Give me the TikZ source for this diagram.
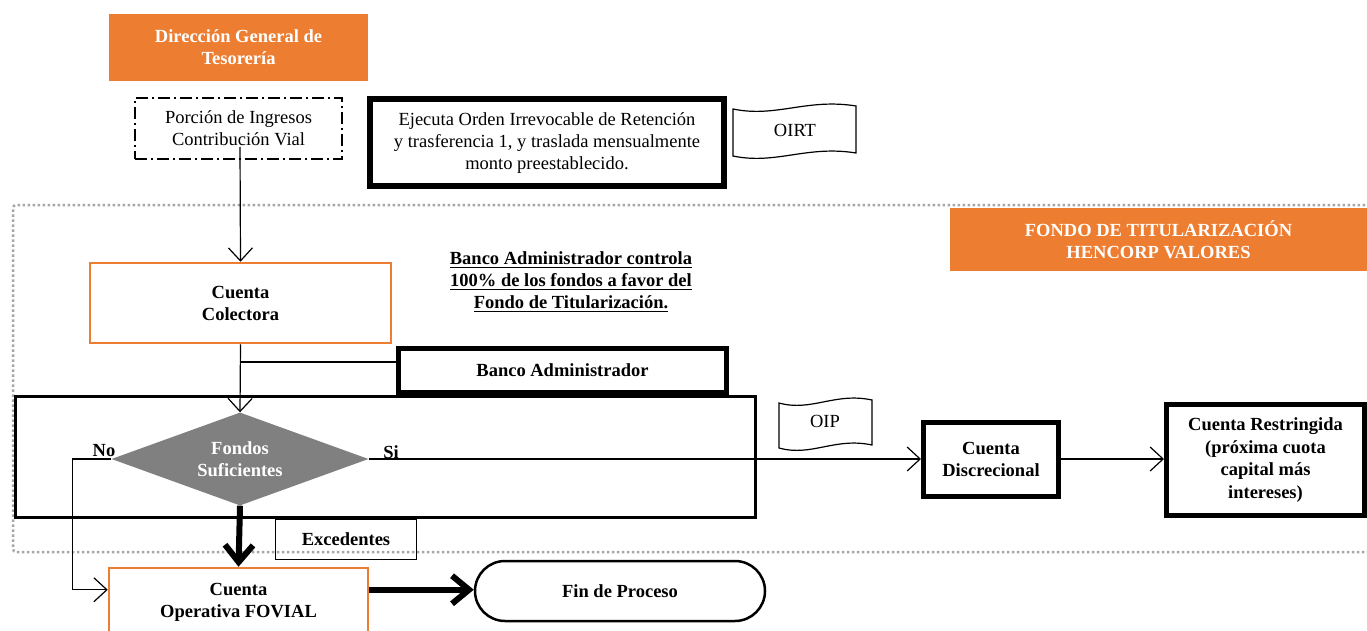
\documentclass[tikz,border=0pt]{standalone}
\usepackage{fontspec}
\setmainfont{Liberation Serif}
\usetikzlibrary{arrows.meta,shapes.geometric,calc}
\definecolor{orng}{HTML}{ED7D31}
\definecolor{dgray}{HTML}{808080}
\definecolor{dotgray}{HTML}{A6A6A6}
\newcommand\fsz{\fontsize{18.5}{22}\selectfont}
\newcommand\ulx[1]{\leavevmode\setbox0=\hbox{#1}\rlap{\rule[-3.5pt]{\wd0}{1.6pt}}\box0}
\newcommand\wavedoc[4]{%
  \draw[line width=1.2pt]
    ({#1},{#2+4}) .. controls ({#1+0.35*(#3-#1)},{#2+13}) and ({#1+0.6*(#3-#1)},{#2-7}) .. ({#3},{#2+1})
    -- ({#3},{#4+1})
    .. controls ({#1+0.6*(#3-#1)},{#4-7}) and ({#1+0.35*(#3-#1)},{#4+13}) .. ({#1},{#4+4})
    -- cycle;}
\begin{document}
\begin{tikzpicture}[x=1pt,y=-1pt,
  every node/.style={font=\fsz, align=center, inner sep=0pt},
  orangefill/.style={fill=orng, text=white, font=\fsz\bfseries},
  orangebox/.style={draw=orng, line width=2.5pt, font=\fsz\bfseries},
  thickbox/.style={draw, line width=5pt, font=\fsz\bfseries},
  conn/.style={line width=1.2pt, -{Straight Barb[length=13pt,width=24pt,line width=1.2pt]}},
  plain/.style={line width=1.2pt},
  bigarrow/.style={line width=6pt, -{Straight Barb[length=17pt,width=28pt]}},
]
\useasboundingbox (0,0) rectangle (1367,631);
\clip (0,0) rectangle (1367,631);

% dotted frame of the Fondo de Titularizacion
\draw[dotgray, line width=2.5pt, dash pattern=on 2.5pt off 2.5pt, rounded corners=3pt]
  (1380,205) -- (13,205) -- (13,552) -- (1380,552);

% top area
\node[orangefill, minimum width=259pt, minimum height=67pt] (dgt) at (238.5,47.5) {Dirección General de\\Tesorería};
\node[draw, line width=2pt, dash pattern=on 12pt off 4pt on 2pt off 4pt,
      minimum width=207pt, minimum height=61pt] (por) at (238.5,128.5) {Porción de Ingresos\\Contribución Vial};
\node[draw, line width=6pt, minimum width=354pt, minimum height=87pt] (ejec) at (547,143)
  {Ejecuta Orden Irrevocable de Retención\\y trasferencia 1, y traslada mensualmente\\monto preestablecido.};
\node (oirt) at (795,130) {OIRT};
\wavedoc{733}{105}{856}{152}

\node[orangefill, minimum width=417pt, minimum height=63pt] (fondo) at (1158.5,239.5)
  {FONDO DE TITULARIZACIÓN\\HENCORP VALORES};

\node[font=\fsz\bfseries] (ctrl) at (571,282)
  {\ulx{Banco Administrador controla}\\\ulx{100\% de los fondos a favor del}\\\ulx{Fondo de Titularización.}};

\node[orangebox, minimum width=301pt, minimum height=80pt] (col) at (240.5,303) {Cuenta\\Colectora};
\node[thickbox, minimum width=328pt, minimum height=44pt] (ban) at (562.5,370.5) {Banco Administrador};

\node[draw, line width=3pt, minimum width=740pt, minimum height=121pt] (bigbox) at (385,457) {};

\node[diamond, aspect=2.76, fill=dgray, text=white, font=\fsz\bfseries,
      minimum width=257pt, minimum height=93pt] (dia) at (240,459) {Fondos\\Suficientes};
\node[font=\fsz\bfseries] (no) at (104,451) {No};
\node[font=\fsz\bfseries] (si) at (391,452) {Si};

\node (oip) at (825,421) {OIP};
\wavedoc{779}{399}{872}{444}

\node[thickbox, minimum width=135pt, minimum height=74pt] (disc) at (991,459) {Cuenta\\Discrecional};
\node[thickbox, minimum width=198pt, minimum height=111pt, font=\fontsize{18.5}{22.5}\selectfont\bfseries] (rest) at (1265.5,460)
  {Cuenta Restringida\\(próxima cuota\\capital más\\intereses)};

\node[draw, line width=1.5pt, font=\fsz\bfseries, minimum width=141pt, minimum height=40pt] (exc) at (346,539.5) {Excedentes};

\node[orangebox, minimum width=259pt, minimum height=68pt] (oper) at (238.5,602) {Cuenta\\Operativa FOVIAL};
\node[draw, line width=2.5pt, rounded corners=30pt, font=\fsz\bfseries,
      minimum width=290pt, minimum height=60pt] (fin) at (620,591) {Fin de Proceso};

% connectors
\coordinate (porbot) at (240,147);
\coordinate (br) at (240,362);
\coordinate (opin) at ($(oper.north west)+(0,23)$);
\draw[conn] (porbot) -- (col.north);
\draw[conn] (col.south) -- (dia.north);
\draw[plain] (br) -- (br -| ban.west);
\draw[conn] (dia.east) -- (dia.east -| disc.west);
\draw[conn] (disc.east) -- (disc.east -| rest.west);
\draw[conn] (dia.west) -- ++(-39,0) |- (opin);
\draw[bigarrow] (dia.south) -- (oper.north);
\draw[bigarrow] (opin -| oper.east) -- (opin -| fin.west);
\end{tikzpicture}
\end{document}
